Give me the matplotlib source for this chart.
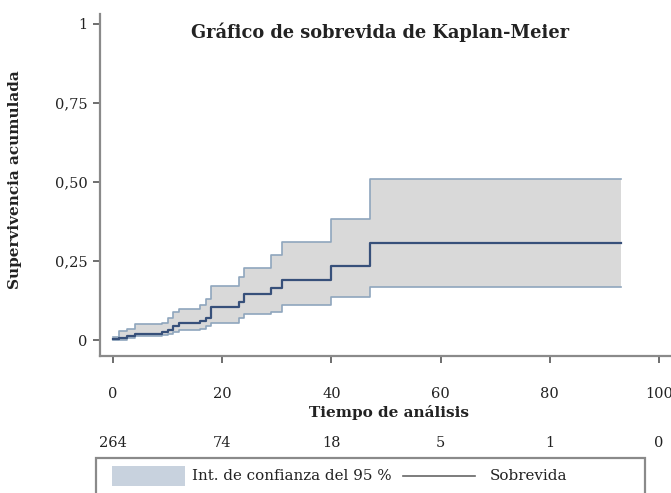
import matplotlib.pyplot as plt
import matplotlib.transforms as mtransforms
from matplotlib.patches import Rectangle
from matplotlib.lines import Line2D

plt.rcParams['font.family'] = ['DejaVu Serif']

# Kaplan-Meier estimate (cumulative) and 95% band, step values after each time
times = [0, 1, 2.5, 4, 9, 10, 11, 12, 16, 17, 18, 23, 24, 29, 31, 40, 47, 93]
surv = [0.003, 0.008, 0.012, 0.020, 0.025, 0.033, 0.045, 0.055, 0.062, 0.070,
        0.105, 0.120, 0.145, 0.165, 0.190, 0.235, 0.307, 0.307]
upper = [0.010, 0.030, 0.035, 0.050, 0.055, 0.070, 0.090, 0.100, 0.112, 0.130,
         0.172, 0.200, 0.228, 0.268, 0.310, 0.383, 0.508, 0.508]
lower = [0.000, 0.002, 0.006, 0.012, 0.016, 0.020, 0.027, 0.032, 0.036, 0.045,
         0.055, 0.070, 0.082, 0.090, 0.110, 0.137, 0.169, 0.169]

xticks = [0, 20, 40, 60, 80, 100]
yticks = [0, 0.25, 0.50, 0.75, 1]
ytick_labels = ['0', '0,25', '0,50', '0,75', '1']
at_risk = [264, 74, 18, 5, 1, 0]

W, H = 671, 493
fig = plt.figure(figsize=(W / 100, H / 100), dpi=100)
ax = fig.add_axes([100 / W, (H - 356) / H, 1 - 100 / W, (356 - 14) / H])

ax.fill_between(times, lower, upper, step='post', color='#d9d9d9', lw=0)
ax.step(times, upper, where='post', color='#8fa6bd', lw=1.2)
ax.step(times, lower, where='post', color='#8fa6bd', lw=1.2)
ax.step(times, surv, where='post', color='#37507a', lw=1.6)

ax.set_xlim(-2.4, 102.2)
ax.set_ylim(-0.05, 1.03)
ax.set_xticks(xticks)
ax.set_yticks(yticks)
ax.set_yticklabels(ytick_labels)
for s in ['top', 'right']:
    ax.spines[s].set_visible(False)
for s in ['left', 'bottom']:
    ax.spines[s].set_color('#8a8a8a')
    ax.spines[s].set_linewidth(1.6)
ax.tick_params(axis='both', colors='#555555', labelcolor='#222222',
               labelsize=10.5, length=5, width=1.2)
ax.tick_params(axis='x', pad=17)
ax.tick_params(axis='y', pad=4)

fig.text(380 / W, 1 - 32 / H, 'Gráfico de sobrevida de Kaplan-Meier',
         ha='center', va='center', fontsize=12.8, fontweight='bold', color='#222222')
fig.text(15 / W, 1 - 180 / H, 'Supervivencia acumulada', rotation=90,
         ha='center', va='center', fontsize=11, fontweight='bold', color='#222222')
fig.text(389 / W, 1 - 413 / H, 'Tiempo de análisis',
         ha='center', va='center', fontsize=11, fontweight='bold', color='#222222')

# number at risk row under the time axis
trans = mtransforms.blended_transform_factory(ax.transData, fig.transFigure)
for t, n in zip(xticks, at_risk):
    ax.text(t, 1 - 443 / H, str(n), transform=trans, ha='center', va='center',
            fontsize=10.5, color='#222222', clip_on=False)

# legend box
fig.patches.append(Rectangle((96 / W, -0.02), (645 - 96) / W, (H - 458) / H + 0.02,
                             transform=fig.transFigure, fill=False,
                             edgecolor='#8a8a8a', lw=1.6))
fig.patches.append(Rectangle((112 / W, 1 - 486 / H), (185 - 112) / W, 20 / H,
                             transform=fig.transFigure, color='#c8d2de', lw=0))
fig.text(192 / W, 1 - 476 / H, 'Int. de confianza del 95 %', ha='left', va='center',
         fontsize=10.9, color='#222222')
fig.lines.append(Line2D([403 / W, 475 / W], [1 - 476 / H, 1 - 476 / H],
                        transform=fig.transFigure, color='#666666', lw=1.2))
fig.text(490 / W, 1 - 476 / H, 'Sobrevida', ha='left', va='center',
         fontsize=10.9, color='#222222')

fig.savefig('out.png', dpi=100)
